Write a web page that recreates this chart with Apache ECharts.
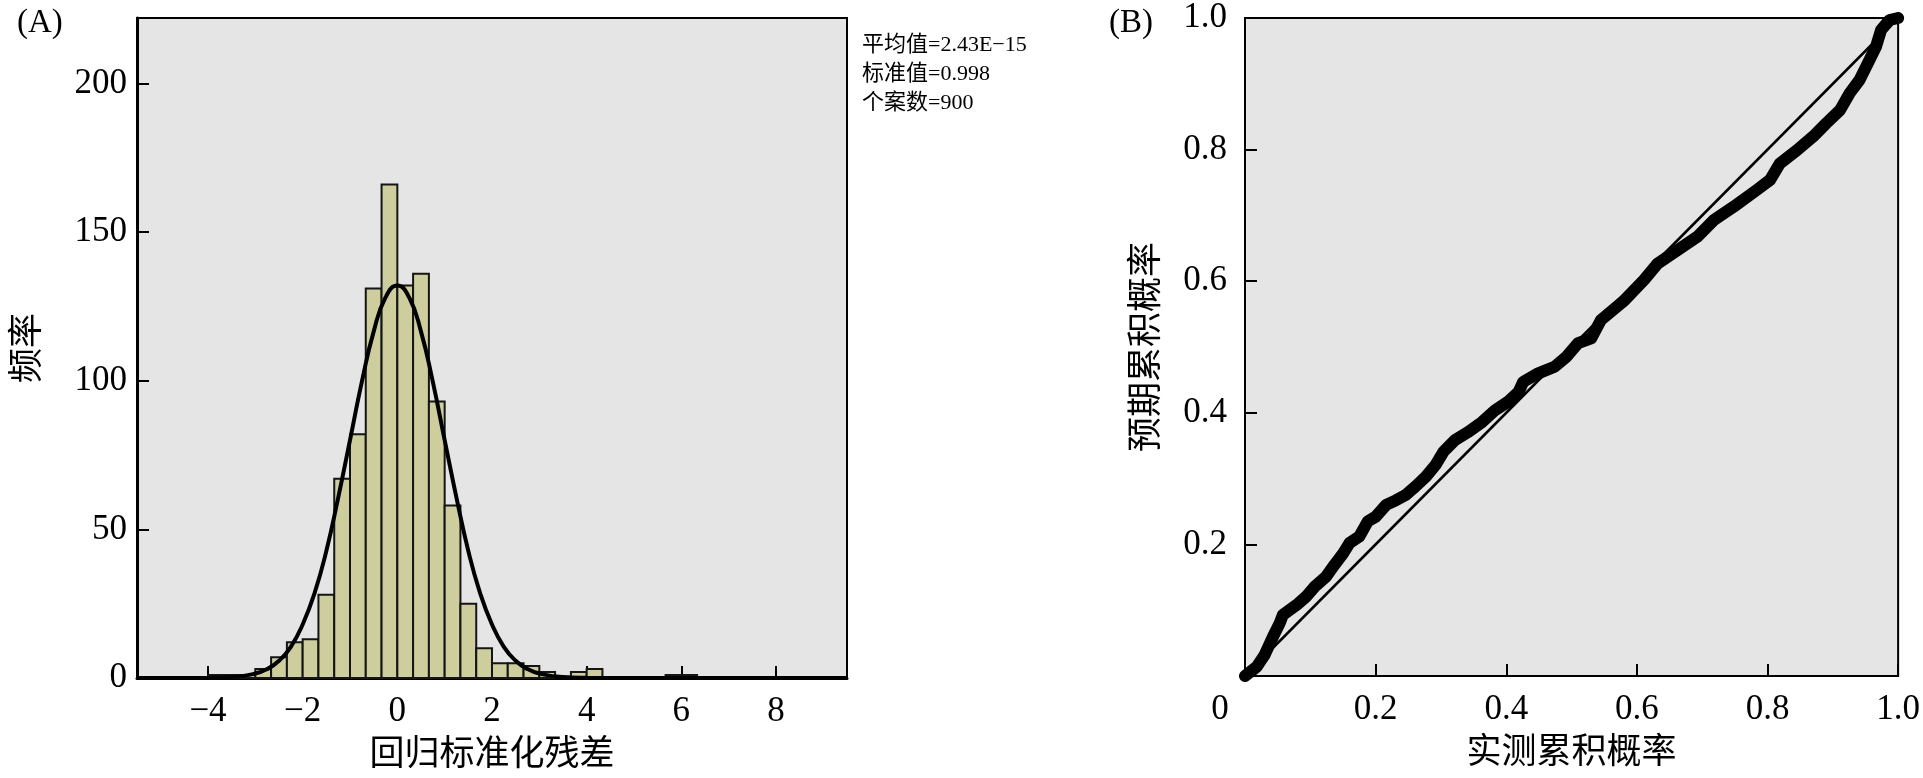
<!DOCTYPE html>
<html><head><meta charset="utf-8">
<script src="https://cdn.jsdelivr.net/npm/echarts@6/dist/echarts.min.js"></script>
<style>html,body{margin:0;padding:0;background:#fff}#c{width:1923px;height:778px}</style>
</head><body><div id="c"></div>
<script>
// ---------- Data ----------
// Histogram of standardized regression residuals (bin edges and counts)
const binLower = [-4, -3.667, -3.333, -3, -2.667, -2.333, -2, -1.667, -1.333, -1, -0.667, -0.333, 0, 0.333, 0.667, 1, 1.333, 1.667, 2, 2.333, 2.667, 3, 3.333, 3.667, 4, 4.333, 4.667, 5, 5.333, 5.667, 6];
const binUpper = [-3.667, -3.333, -3, -2.667, -2.333, -2, -1.667, -1.333, -1, -0.667, -0.333, 0, 0.333, 0.667, 1, 1.333, 1.667, 2, 2.333, 2.667, 3, 3.333, 3.667, 4, 4.333, 4.667, 5, 5.333, 5.667, 6, 6.333];
const binCounts = [1, 1, 1, 3, 7, 12, 13, 28, 67, 82, 131, 166, 132, 136, 93, 58, 25, 10, 5, 5, 4, 2, 0, 2, 3, 0, 0, 0, 0, 1, 1];

// Fitted normal curve
const curveX = [-5.5, -4.5, -4, -3.5, -3, -2.75, -2.5, -2.25, -2, -1.75, -1.5, -1.25, -1, -0.75, -0.5, -0.25, 0, 0.25, 0.5, 0.75, 1, 1.25, 1.5, 1.75, 2, 2.25, 2.5, 2.75, 3, 3.5, 4, 4.5, 5.5, 9.5];
const curveY = [0, 0, 0.05, 0.3, 1.5, 3, 5.8, 10.5, 18, 28.5, 42.7, 60.6, 80, 99.6, 116.5, 128, 132, 128, 116.5, 99.6, 80, 60.6, 42.7, 28.5, 18, 10.5, 5.8, 3, 1.5, 0.3, 0.05, 0, 0, 0];

// P-P plot: observed vs expected cumulative probability
const ppObserved = [0, 0.018, 0.03, 0.043, 0.053, 0.058, 0.079, 0.094, 0.107, 0.124, 0.137, 0.150, 0.160, 0.175, 0.188, 0.200, 0.216, 0.231, 0.246, 0.261, 0.277, 0.292, 0.304, 0.322, 0.342, 0.363, 0.383, 0.403, 0.419, 0.426, 0.449, 0.474, 0.492, 0.510, 0.530, 0.545, 0.581, 0.611, 0.632, 0.662, 0.693, 0.718, 0.748, 0.784, 0.804, 0.819, 0.845, 0.870, 0.890, 0.911, 0.926, 0.941, 0.956, 0.966, 0.974, 0.987, 1.0];
const ppExpected = [0, 0.014, 0.032, 0.060, 0.080, 0.093, 0.108, 0.121, 0.136, 0.151, 0.169, 0.186, 0.202, 0.212, 0.235, 0.242, 0.260, 0.267, 0.275, 0.288, 0.303, 0.321, 0.341, 0.359, 0.371, 0.386, 0.404, 0.417, 0.432, 0.447, 0.460, 0.470, 0.485, 0.506, 0.513, 0.541, 0.571, 0.602, 0.627, 0.647, 0.668, 0.693, 0.713, 0.739, 0.754, 0.779, 0.799, 0.820, 0.840, 0.860, 0.886, 0.906, 0.936, 0.956, 0.982, 0.997, 1.0];
const refLineX = [0, 1];
const refLineY = [0, 1];

// Tick labels / texts
const histXTicks = [-4, -2, 0, 2, 4, 6, 8];
const histYTicks = [0, 50, 100, 150, 200];
const ppXTicks = [0, 0.2, 0.4, 0.6, 0.8, 1.0];
const ppYTicks = [0.2, 0.4, 0.6, 0.8, 1.0];
const statLines = ['平均值=2.43E−15', '标准值=0.998', '个案数=900'];
const panelLabels = ['(A)', '(B)'];
const axisNames = { histX: '回归标准化残差', histY: '频率', ppX: '实测累积概率', ppY: '预期累积概率' };

// ---------- Chart ----------
const SERIF = '"Liberation Serif", "Noto Sans CJK SC", serif';
const CJK = '"Noto Sans CJK SC", sans-serif';
const chart = echarts.init(document.getElementById('c'), null, { renderer: 'canvas' });

const histData = binLower.map((lo, i) => [lo, binUpper[i], binCounts[i]]).filter(d => d[2] > 0);
const curveData = curveX.map((x, i) => [x, curveY[i]]);
const ppData = ppObserved.map((x, i) => [x, ppExpected[i]]);
const refData = refLineX.map((x, i) => [x, refLineY[i]]);

const tickLabel = { color: '#000', fontFamily: SERIF, fontSize: 35 };
const fmtMinus = v => (v < 0 ? '−' + Math.abs(v) : String(v));
const axisLineStyle = w => ({ show: true, onZero: false, lineStyle: { color: '#000', width: w } });

const option = {
  animation: false,
  backgroundColor: '#fff',
  title: [
    { text: panelLabels[0], left: 12, top: 2, textStyle: { fontFamily: SERIF, fontSize: 33, fontWeight: 'normal', color: '#000' } },
    { text: panelLabels[1], left: 1104, top: 2, textStyle: { fontFamily: SERIF, fontSize: 33, fontWeight: 'normal', color: '#000' } }
  ],
  grid: [
    { left: 137, top: 18, width: 710, height: 660, show: true, backgroundColor: '#e5e5e5', borderColor: '#000', borderWidth: 2 },
    { left: 1245, top: 18, width: 658, height: 658, show: true, backgroundColor: '#e5e5e5', borderColor: '#000', borderWidth: 2 }
  ],
  xAxis: [
    {
      gridIndex: 0, type: 'value', min: -5.5, max: 9.5,
      name: axisNames.histX, nameLocation: 'middle', nameGap: 54,
      nameTextStyle: { fontFamily: CJK, fontSize: 35, color: '#000' },
      axisLine: axisLineStyle(3),
      axisTick: { show: true, inside: true, length: 12, lineStyle: { color: '#000', width: 2 }, customValues: histXTicks },
      axisLabel: { ...tickLabel, margin: 16, customValues: histXTicks, formatter: fmtMinus },
      splitLine: { show: false }
    },
    {
      gridIndex: 1, type: 'value', min: 0, max: 1,
      name: axisNames.ppX, nameLocation: 'middle', nameGap: 54,
      nameTextStyle: { fontFamily: CJK, fontSize: 35, color: '#000' },
      axisLine: axisLineStyle(2),
      axisTick: { show: true, inside: true, length: 12, lineStyle: { color: '#000', width: 2 }, customValues: ppXTicks },
      axisLabel: {
        ...tickLabel, margin: 16, customValues: ppXTicks,
        formatter: v => (v === 0 ? '{z|0}' : v.toFixed(1)),
        rich: { z: { fontFamily: SERIF, fontSize: 35, color: '#000', padding: [0, 50, 0, 0] } }
      },
      splitLine: { show: false }
    }
  ],
  yAxis: [
    {
      gridIndex: 0, type: 'value', min: 0, max: 222,
      name: axisNames.histY, nameLocation: 'middle', nameGap: 95, nameRotate: 90,
      nameTextStyle: { fontFamily: CJK, fontSize: 35, color: '#000' },
      axisLine: axisLineStyle(3),
      axisTick: { show: true, inside: true, length: 12, lineStyle: { color: '#000', width: 2 }, customValues: histYTicks },
      axisLabel: { ...tickLabel, margin: 10, customValues: histYTicks },
      splitLine: { show: false }
    },
    {
      gridIndex: 1, type: 'value', min: 0, max: 1,
      name: axisNames.ppY, nameLocation: 'middle', nameGap: 84, nameRotate: 90,
      nameTextStyle: { fontFamily: CJK, fontSize: 35, color: '#000' },
      axisLine: axisLineStyle(2),
      axisTick: { show: true, inside: true, length: 12, lineStyle: { color: '#000', width: 2 }, customValues: ppYTicks },
      axisLabel: { ...tickLabel, margin: 18, customValues: ppYTicks, formatter: v => v.toFixed(1) },
      splitLine: { show: false }
    }
  ],
  graphic: statLines.map((t, i) => ({
    type: 'text', left: 862, top: 34 + i * 29,
    style: { text: t, fontFamily: SERIF, fontSize: 22, fill: '#000' }
  })),
  series: [
    {
      type: 'custom', xAxisIndex: 0, yAxisIndex: 0, data: histData,
      encode: { x: [0, 1], y: 2 },
      renderItem: (params, api) => {
        const p0 = api.coord([api.value(0), api.value(2)]);
        const p1 = api.coord([api.value(1), 0]);
        return {
          type: 'rect',
          shape: { x: p0[0], y: p0[1], width: p1[0] - p0[0], height: p1[1] - p0[1] },
          style: { fill: '#cdcd9e', stroke: '#151515', lineWidth: 2 }
        };
      },
      z: 2
    },
    {
      type: 'line', xAxisIndex: 0, yAxisIndex: 0, data: curveData,
      smooth: 0.5, showSymbol: false,
      lineStyle: { color: '#000', width: 4 }, z: 3
    },
    {
      type: 'line', xAxisIndex: 1, yAxisIndex: 1, data: refData,
      showSymbol: false, lineStyle: { color: '#000', width: 2.5 }, z: 2
    },
    {
      type: 'line', xAxisIndex: 1, yAxisIndex: 1, data: ppData,
      showSymbol: false, smooth: false,
      lineStyle: { color: '#000', width: 12, cap: 'round', join: 'round' }, z: 3
    }
  ]
};
chart.setOption(option);
</script></body></html>
